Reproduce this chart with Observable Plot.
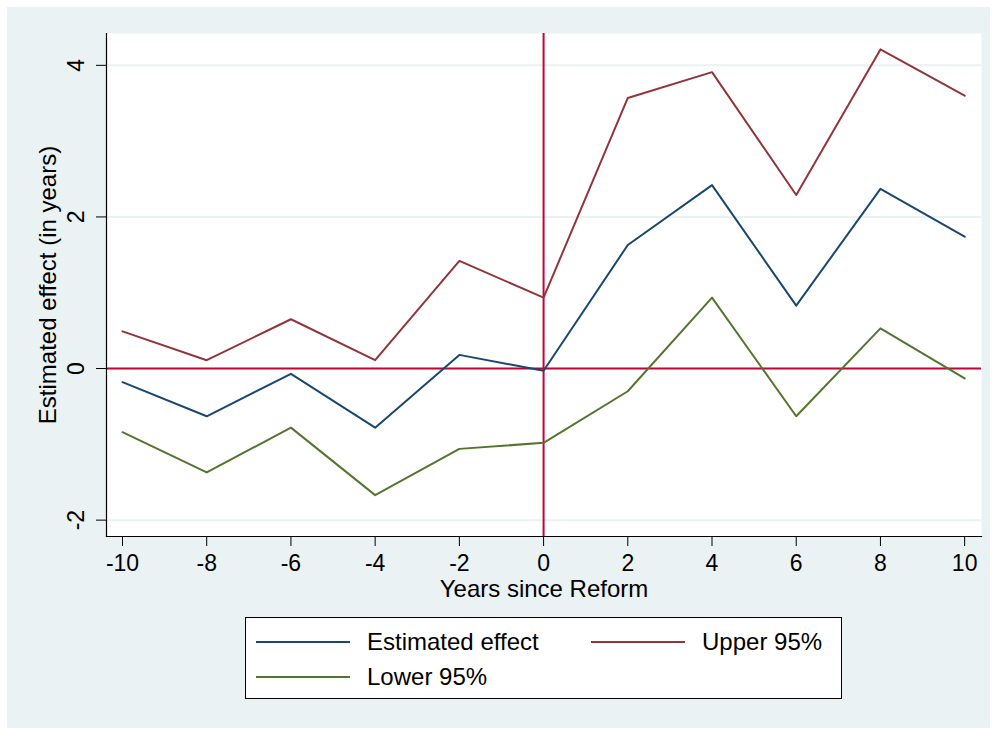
<!DOCTYPE html>
<html>
<head>
<meta charset="utf-8">
<script src="https://cdn.jsdelivr.net/npm/d3@7"></script>
<script src="https://cdn.jsdelivr.net/npm/@observablehq/plot@0.6"></script>
<style>
  html, body { margin: 0; padding: 0; background: #ffffff; }
  body { width: 997px; height: 729px; position: relative; overflow: hidden;
         font-family: "Liberation Sans", Arial, Helvetica, sans-serif; color: #000; }
  #bg { position: absolute; left: 7px; top: 7px; width: 983px; height: 721px; background: #eaf2f3; }
  #chart { position: absolute; left: 0; top: 0; }
  #legend { position: absolute; left: 245px; top: 617px; width: 595px; height: 80px;
            border: 1px solid #000; background: #fff; }
  .item { position: absolute; display: flex; align-items: center; height: 30px; font-size: 24px; }
  .swatch { display: inline-block; width: 94px; height: 2px; margin-right: 17px; }
</style>
</head>
<body>
<div id="bg"></div>
<div id="chart"></div>
<div id="legend"></div>
<script>
const years    = [-10, -8, -6, -4, -2, 0, 2, 4, 6, 8, 10];
const estimate = [-0.18, -0.63, -0.07, -0.78, 0.18, -0.03, 1.63, 2.42, 0.83, 2.37, 1.74];
const upper95  = [0.49, 0.11, 0.65, 0.11, 1.42, 0.935, 3.57, 3.91, 2.29, 4.21, 3.60];
const lower95  = [-0.84, -1.37, -0.78, -1.67, -1.06, -0.98, -0.30, 0.935, -0.63, 0.53, -0.13];
const seriesNames  = ["Estimated effect", "Upper 95%", "Lower 95%"];
const seriesColors = ["#1a476f", "#90353b", "#55752f"];
const xTicks = [-10, -8, -6, -4, -2, 0, 2, 4, 6, 8, 10];
const yTicks = [-2, 0, 2, 4];
const xLabel = "Years since Reform";
const yLabel = "Estimated effect (in years)";

const seriesValues = [estimate, upper95, lower95];
const rows = [];
seriesValues.forEach((vals, s) => vals.forEach((v, i) => rows.push({year: years[i], value: v, series: seriesNames[s]})));

const font = '"Liberation Sans", Arial, Helvetica, sans-serif';

const chart = Plot.plot({
  width: 997,
  height: 610,
  marginLeft: 106,
  marginRight: 16,
  marginTop: 33,
  marginBottom: 74,
  style: {background: "transparent", fontFamily: font, color: "#000"},
  x: {domain: [-10.38, 10.4]},
  y: {domain: [-2.216, 4.42]},
  color: {domain: seriesNames, range: seriesColors},
  marks: [
    Plot.frame({fill: "#ffffff", stroke: null}),
    Plot.gridY(yTicks, {stroke: "#eaf2f3", strokeOpacity: 1, strokeWidth: 2}),
    Plot.ruleY([0], {stroke: "#c10534", strokeWidth: 2}),
    Plot.ruleX([0], {stroke: "#c10534", strokeWidth: 2}),
    Plot.line(rows, {x: "year", y: "value", z: "series", stroke: "series", strokeWidth: 2}),
    Plot.frame({anchor: "left", stroke: "#000", strokeWidth: 1.2}),
    Plot.frame({anchor: "bottom", stroke: "#000", strokeWidth: 1.2}),
    Plot.axisX({ticks: xTicks, tickSize: 10, tickPadding: 8, fontSize: 23, tickFormat: d => String(d), label: null, stroke: "#000"}),
    Plot.axisY({ticks: yTicks, tickSize: 10, tickFormat: () => "", label: null, stroke: "#000"}),
    Plot.text(yTicks, {y: d => d, text: d => String(d), frameAnchor: "left", textAnchor: "middle", lineAnchor: "middle", dx: -30, rotate: -90, fontSize: 23, fill: "#000"}),
    Plot.text([yLabel], {text: d => d, frameAnchor: "left", textAnchor: "middle", lineAnchor: "middle", dx: -58, rotate: -90, fontSize: 24, fill: "#000"}),
    Plot.text([xLabel], {text: d => d, frameAnchor: "bottom", textAnchor: "middle", lineAnchor: "middle", dy: 53, fontSize: 24, fill: "#000"})
  ]
});
document.getElementById("chart").appendChild(chart);

// legend
const legend = document.getElementById("legend");
const pos = [{left: 10, top: 9}, {left: 345, top: 9}, {left: 10, top: 44}];
seriesNames.forEach((name, i) => {
  const item = document.createElement("div");
  item.className = "item";
  item.style.left = pos[i].left + "px";
  item.style.top = pos[i].top + "px";
  const sw = document.createElement("span");
  sw.className = "swatch";
  sw.style.background = seriesColors[i];
  const tx = document.createElement("span");
  tx.textContent = name;
  item.appendChild(sw);
  item.appendChild(tx);
  legend.appendChild(item);
});
</script>
</body>
</html>
